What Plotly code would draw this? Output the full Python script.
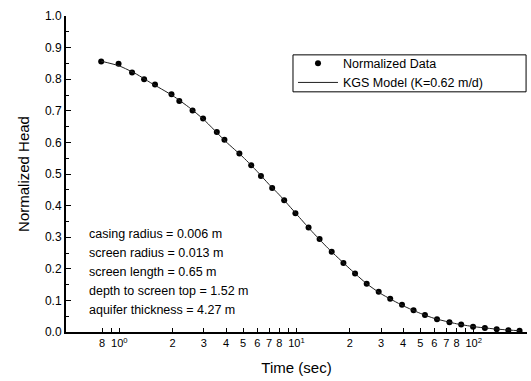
import numpy as np
import plotly.graph_objects as go

# Slug test: normalized head vs. elapsed time
time_s = [0.79, 0.99, 1.18, 1.38, 1.59, 1.97, 2.18, 2.59, 2.97, 3.55, 3.92, 4.76,
          5.55, 6.30, 7.29, 8.52, 9.86, 11.7, 13.5, 15.8, 18.4, 21.4, 24.9, 29.1,
          33.8, 39.4, 45.8, 53.1, 62.1, 73.0, 85.0, 99.2, 115.7, 134.9, 157.0, 181.6]
head_norm = [0.856, 0.849, 0.821, 0.800, 0.783, 0.752, 0.731, 0.701, 0.676, 0.633,
             0.608, 0.565, 0.528, 0.494, 0.456, 0.417, 0.376, 0.331, 0.294, 0.254,
             0.218, 0.185, 0.153, 0.127, 0.105, 0.086, 0.0685, 0.0537, 0.0407,
             0.0306, 0.0237, 0.0167, 0.0123, 0.0088, 0.0057, 0.0038]

# KGS model response curve
model_time = [0.79, 1.0, 1.25, 1.5, 2.0, 2.5, 3.0, 4.0, 5.0, 6.0, 7.0, 8.0, 10.0,
              12.0, 15.0, 20.0, 25.0, 30.0, 40.0, 50.0, 60.0, 80.0, 100.0, 130.0,
              160.0, 182.0]
model_head = [0.857, 0.842, 0.816, 0.789, 0.748, 0.709, 0.672, 0.602, 0.553,
              0.508, 0.467, 0.434, 0.373, 0.323, 0.266, 0.200, 0.152, 0.121,
              0.083, 0.059, 0.043, 0.026, 0.017, 0.010, 0.006, 0.004]

site_notes = ["casing radius = 0.006 m",
              "screen radius = 0.013 m",
              "screen length = 0.65 m",
              "depth to screen top = 1.52 m",
              "aquifer thickness = 4.27 m"]

x_tickvals = [0.8, 1, 2, 3, 4, 5, 6, 7, 8, 10, 20, 30, 40, 50, 60, 70, 80, 100]
x_ticktext = ["8", "10<sup>0</sup>", "2", "3", "4", "5", "6", "7", "8",
              "10<sup>1</sup>", "2", "3", "4", "5", "6", "7", "8", "10<sup>2</sup>"]
x_minor_vals = [0.9, 9, 90, 200]
y_tickvals = [round(0.1 * i, 1) for i in range(11)]
y_ticktext = [f"{v:.1f}" for v in y_tickvals]

FONT = "Liberation Sans, Arial, sans-serif"

fig = go.Figure()
fig.add_trace(go.Scatter(
    x=time_s, y=head_norm, mode="markers", name="Normalized Data",
    marker=dict(symbol="circle", size=6, color="black"),
))
fig.add_trace(go.Scatter(
    x=model_time, y=model_head, mode="lines", name="KGS Model (K=0.62 m/d)",
    line=dict(color="#202020", width=1, shape="spline", smoothing=0.6),
))

for i, note in enumerate(site_notes):
    fig.add_annotation(
        x=0.045, y=0.311 - i * 0.060, xref="paper", yref="paper",
        text=note, showarrow=False, xanchor="left", yanchor="middle",
        font=dict(family=FONT, size=12.5, color="black"),
    )

# frame around the legend, running to the right edge of the plot
fig.add_shape(type="rect", xref="paper", yref="paper",
              x0=0.4924, x1=0.998, y0=0.760, y1=0.877,
              line=dict(color="black", width=1), fillcolor="white", layer="below")

fig.update_layout(
    width=531, height=381,
    margin=dict(l=66, r=4, t=16, b=49),
    paper_bgcolor="white", plot_bgcolor="white",
    font=dict(family=FONT, color="black"),
    showlegend=True,
    legend=dict(
        x=0.4924, y=0.897, xanchor="left", yanchor="top",
        borderwidth=0, bgcolor="rgba(0,0,0,0)",
        font=dict(family=FONT, size=12.5, color="black"),
        itemwidth=40, tracegroupgap=0,
    ),
    xaxis=dict(
        type="log", range=[np.log10(0.5), np.log10(200)],
        tickvals=x_tickvals, ticktext=x_ticktext,
        ticks="inside", ticklen=4, tickwidth=1, tickcolor="black",
        minor=dict(tickvals=x_minor_vals, ticks="inside", ticklen=4, tickcolor="black"),
        showline=True, linewidth=2, linecolor="black",
        showgrid=False, zeroline=False,
        tickfont=dict(family=FONT, size=11, color="black"),
        title=dict(text="Time (sec)", font=dict(family=FONT, size=15), standoff=14),
    ),
    yaxis=dict(
        range=[0, 1],
        tickvals=y_tickvals, ticktext=y_ticktext,
        ticks="inside", ticklen=5, tickwidth=1, tickcolor="black",
        minor=dict(dtick=0.05, ticks="inside", ticklen=3, tickcolor="black"),
        showline=True, linewidth=2, linecolor="black",
        showgrid=False, zeroline=False,
        tickfont=dict(family=FONT, size=12, color="black"),
        title=dict(text="Normalized Head", font=dict(family=FONT, size=15), standoff=12),
    ),
)

fig.write_html("out.html")
